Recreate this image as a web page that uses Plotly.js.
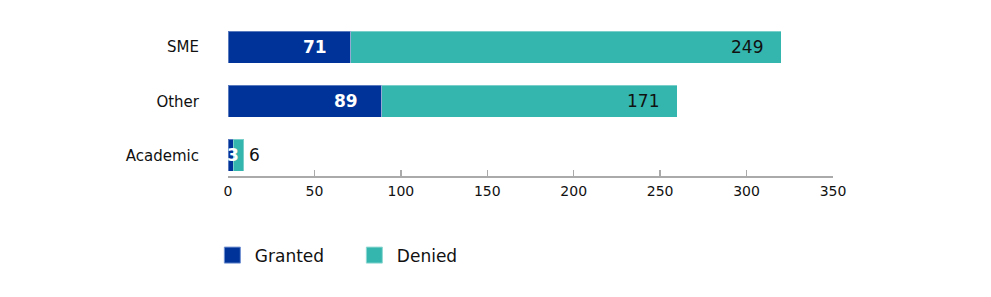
<!DOCTYPE html>
<html>
<head>
<meta charset="utf-8">
<script src="https://cdn.plot.ly/plotly-3.0.1.min.js"></script>
<style>html,body{margin:0;padding:0;background:#fff;}#chart{width:991px;height:297px;}</style>
</head>
<body>
<div id="chart"></div>
<script>
const categories = ["Academic", "Other", "SME"];
const granted = [3, 89, 71];
const denied = [6, 171, 249];
const seriesNames = ["Granted", "Denied"];
const colors = ["#003399", "#34b6ae"];

const FONT = "DejaVu Sans, Verdana, sans-serif";
const pxPerUnit = 605 / 350;

const traces = [
  {type: "bar", orientation: "h", y: categories, x: granted, name: seriesNames[0],
   marker: {color: colors[0], line: {color: "rgba(255,255,255,0.35)", width: 1}},
   showlegend: false, hoverinfo: "x+name"},
  {type: "bar", orientation: "h", y: categories, x: denied, name: seriesNames[1],
   marker: {color: colors[1], line: {color: "rgba(255,255,255,0.35)", width: 1}},
   showlegend: false, hoverinfo: "x+name"},
  {type: "scatter", mode: "markers", x: [null], y: [null], name: seriesNames[0],
   marker: {symbol: "square", size: 20, color: colors[0], line: {color: "#6f8fd0", width: 1}}},
  {type: "scatter", mode: "markers", x: [null], y: [null], name: seriesNames[1],
   marker: {symbol: "square", size: 20, color: colors[1], line: {color: "#8fd8d2", width: 1}}}
];

const annotations = [];
categories.forEach((c, i) => {
  const g = granted[i], d = denied[i], tot = g + d;
  if (g * pxPerUnit > 30) {
    annotations.push({x: g, y: c, xref: "x", yref: "y", text: "<b>" + g + "</b>", showarrow: false,
      xanchor: "right", xshift: -22, font: {family: FONT, size: 17, color: "#ffffff"}});
  } else {
    annotations.push({x: g, y: c, xref: "x", yref: "y", text: "<b>" + g + "</b>", showarrow: false,
      xanchor: "center", font: {family: FONT, size: 17, color: "#ffffff"}});
  }
  if (d * pxPerUnit > 30) {
    annotations.push({x: tot, y: c, xref: "x", yref: "y", text: String(d), showarrow: false,
      xanchor: "right", xshift: -16, font: {family: FONT, size: 17, color: "#111111"}});
  } else {
    annotations.push({x: tot, y: c, xref: "x", yref: "y", text: String(d), showarrow: false,
      xanchor: "left", xshift: 3, font: {family: FONT, size: 17, color: "#111111"}});
  }
});

const layout = {
  width: 991, height: 297,
  margin: {l: 228, r: 158, t: 20, b: 121, pad: 0},
  paper_bgcolor: "#ffffff", plot_bgcolor: "#ffffff",
  barmode: "stack", bargap: 0.41,
  font: {family: FONT, size: 14, color: "#111111"},
  xaxis: {range: [0, 350], tickvals: [0, 50, 100, 150, 200, 250, 300, 350],
    showgrid: false, zeroline: false, showline: true, linecolor: "#aaaaaa", linewidth: 1.5,
    ticks: "inside", ticklen: 6, tickcolor: "#aaaaaa", tickwidth: 1.5, ticklabelstandoff: 2,
    tickfont: {family: FONT, size: 14, color: "#111111"}, fixedrange: true},
  yaxis: {type: "category", categoryarray: categories, range: [-0.38, 2.5],
    showgrid: false, zeroline: false, showline: false, ticks: "",
    ticklabelstandoff: 28, tickfont: {family: FONT, size: 15, color: "#111111"}, fixedrange: true},
  legend: {orientation: "h", traceorder: "normal", x: -0.03, xanchor: "left", y: -0.51, yanchor: "middle",
    font: {family: FONT, size: 17, color: "#111111"}, itemwidth: 35, entrywidth: 92, entrywidthmode: "pixels",
    bgcolor: "rgba(0,0,0,0)"},
  annotations: annotations,
  showlegend: true
};

Plotly.newPlot("chart", traces, layout, {displayModeBar: false, staticPlot: true});
</script>
</body>
</html>
